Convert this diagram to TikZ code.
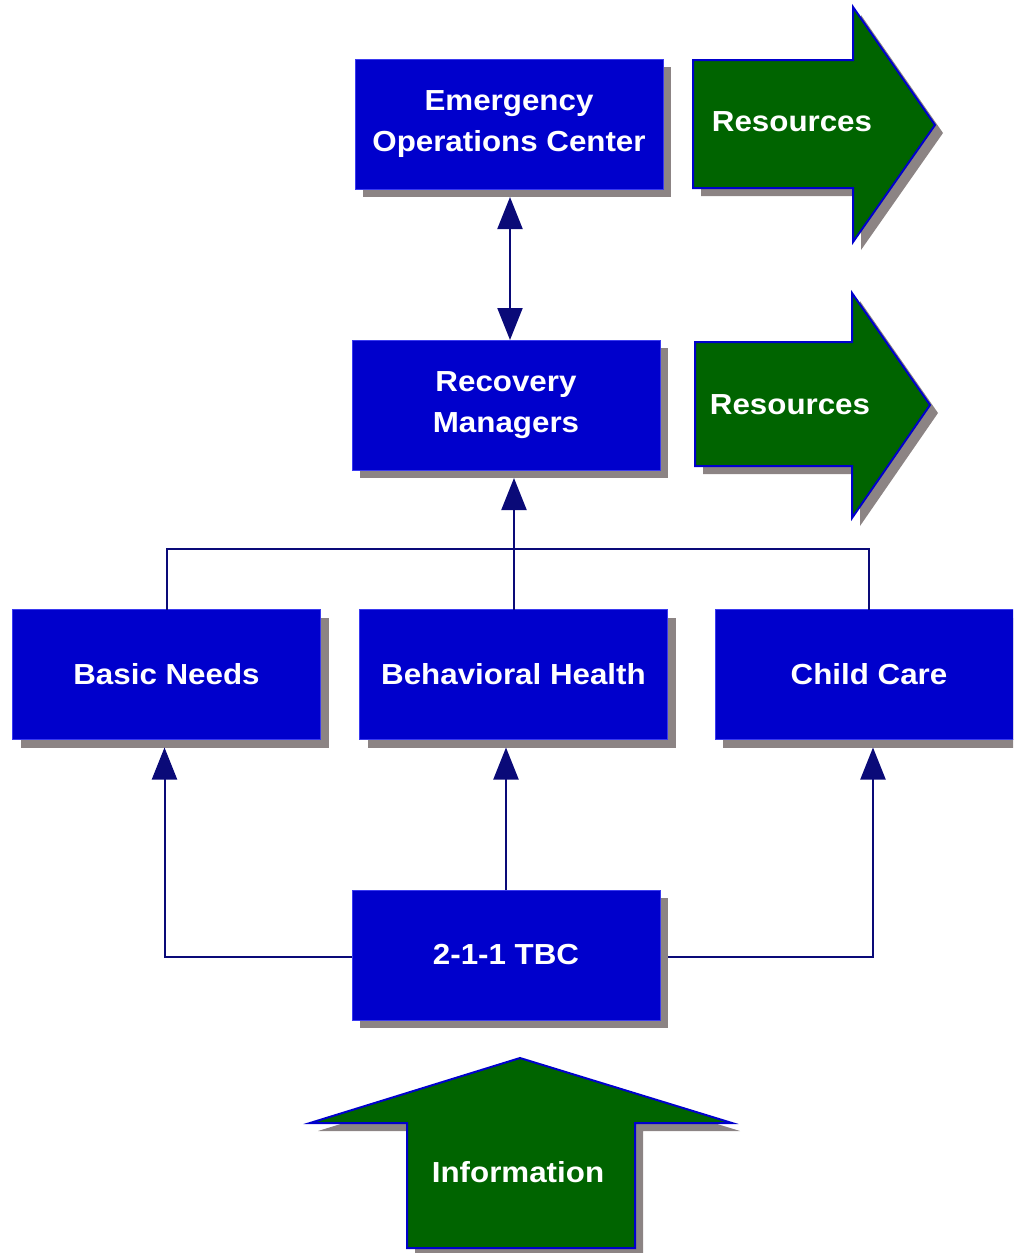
\documentclass[tikz,border=0pt]{standalone}
\usepackage{fontspec}
\setmainfont[FakeStretch=1.08]{Liberation Sans}
\usetikzlibrary{arrows.meta,shadows,calc}
\definecolor{boxblue}{HTML}{0000CC}
\definecolor{edgeblue}{HTML}{3A3AF0}
\definecolor{resgreen}{HTML}{006400}
\definecolor{shadowgrey}{HTML}{8C8484}
\definecolor{linenavy}{HTML}{0A0A78}
\begin{document}
\begin{tikzpicture}[x=1pt,y=-1pt,
  shad/.style={drop shadow={shadow xshift=8pt,shadow yshift=-8pt,fill=shadowgrey,opacity=1}},
  txt/.style={text=white,font=\bfseries\fontsize{29}{41}\selectfont,align=center},
  box/.style={shad,txt,draw=edgeblue,line width=1pt,fill=boxblue,minimum width=308pt,minimum height=130pt,inner sep=0pt,outer sep=0pt},
  bigarrow/.style={shad,draw=boxblue,line width=2pt,fill=resgreen,line join=miter},
  conn/.style={draw=linenavy,line width=2pt},
  tipend/.style={-{Triangle[width=25pt,length=32pt]}},
  tipboth/.style={{Triangle[width=25pt,length=32pt]}-{Triangle[width=25pt,length=32pt]}}
]
\path[use as bounding box] (0,0) rectangle (1013,1253);
\clip (0,0) rectangle (1013,1253);

% big arrows
\draw[bigarrow] (693,60) -- (853,60) -- (853,7) -- (935,125) -- (853,242) -- (853,188) -- (693,188) -- cycle;
\draw[bigarrow] (695,342) -- (852,342) -- (852,293) -- (930,405) -- (852,518) -- (852,466) -- (695,466) -- cycle;
\draw[bigarrow] (310,1123) -- (520,1058) -- (732,1123) -- (635,1123) -- (635,1248) -- (407,1248) -- (407,1123) -- cycle;
\node[txt] (res1) at (792,122) {Resources};
\node[txt] (res2) at (790,405) {Resources};
\node[txt] (info) at (518,1172) {Information};

% boxes
\node[box] (eoc) at (509,124) {Emergency\\Operations Center};
\node[box] (rm) at (506,405) {Recovery\\Managers};
\node[box] (bn) at (166.5,674.5) {Basic Needs};
\node[box] (bh) at (513.5,674.5) {Behavioral Health};
\node[box] (cc) at (869,674.5) {Child Care};
\node[box] (tbc) at (506,955) {2-1-1 TBC};

% shadow-bottom coordinates
\coordinate (eocsh) at ($(eoc.south)+(1,8)$);
\coordinate (rmsh) at ($(rm.south)+(8,8)$);
\coordinate (bnsh) at ($(bn.south)+(-2,8)$);
\coordinate (bhsh) at ($(bh.south)+(-7.5,8)$);
\coordinate (ccsh) at ($(cc.south)+(4,8)$);
\coordinate (tbcsh) at ($(tbc.east)+(8,2)$);
\coordinate (br) at (514,549);

% connectors
\draw[conn,tipboth] (eocsh) -- (eocsh |- rm.north);
\draw[conn] (bn.north) |- (br) -| (cc.north);
\draw[conn,tipend] (bh.north -| rmsh) -- (rmsh);
\draw[conn,tipend] (tbc.west |- tbcsh) -| (bnsh);
\draw[conn,tipend] (tbc.north) -- (bhsh);
\draw[conn,tipend] (tbcsh) -| (ccsh);
\end{tikzpicture}
\end{document}
